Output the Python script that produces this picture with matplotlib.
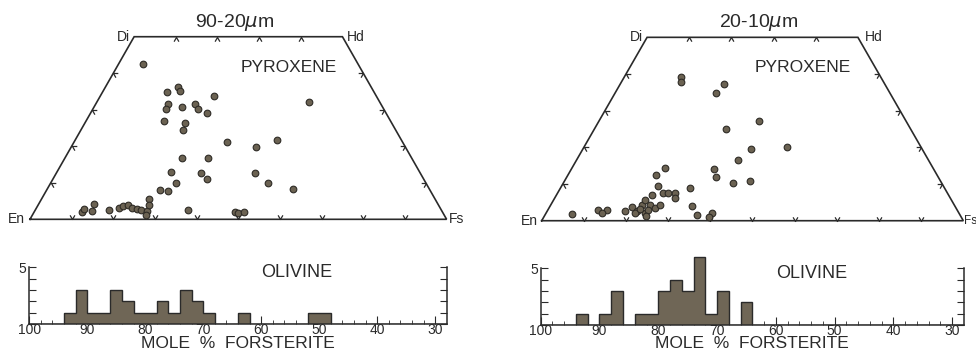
import numpy as np
import matplotlib
matplotlib.use("Agg")
import matplotlib.pyplot as plt
from matplotlib.markers import MarkerStyle
from matplotlib.path import Path
from matplotlib.transforms import Affine2D

# pyroxene analyses, mole % Wo and Fs (En = 100 - Wo - Fs)
coarse_wo = [42.5, 34.8, 36.2, 35.1, 33.8, 31.5, 30.2, 30.7, 31.5, 30.2, 29.2, 26.9,
             26.3, 24.5, 21.2, 32.1, 19.9, 21.8, 16.7, 16.9, 12.9, 12.6, 11.0, 12.6,
             10.0, 10.0, 8.3, 8.0, 7.7, 5.5, 2.5, 2.1, 1.6, 1.9, 2.1, 2.8, 2.3, 4.2,
             2.5, 3.2, 3.7, 3.9, 3.2, 2.8, 2.5, 2.3, 3.9, 1.2]
coarse_fs = [5.8, 15.4, 17.4, 18.5, 27.3, 17.3, 17.6, 21.1, 23.9, 25.3, 28.0, 18.6,
             24.1, 24.4, 36.8, 51.0, 44.2, 48.3, 28.1, 34.2, 27.3, 34.7, 37.0, 47.7,
             30.0, 52.2, 58.9, 27.2, 29.3, 25.9, 36.7, 48.2, 49.2, 50.5, 11.5, 11.6,
             13.8, 13.3, 17.8, 19.8, 20.5, 21.6, 23.0, 24.3, 25.5, 27.0, 26.7, 27.3]

fine_wo = [39.3, 37.9, 37.2, 34.7, 27.2, 24.9, 20.2, 19.5, 16.5, 14.3, 14.0, 12.0,
           10.2, 10.9, 12.5, 9.5, 8.8, 7.5, 6.1, 7.5, 7.6, 4.0, 1.6, 2.0, 1.1, 1.8,
           2.9, 2.9, 2.2, 2.7, 3.8, 2.7, 4.3, 5.6, 7.0, 4.3, 3.4, 4.3, 2.0, 2.0, 3.1,
           2.9, 1.3]
fine_fs = [13.4, 14.1, 24.6, 24.0, 38.0, 31.3, 48.0, 39.9, 38.2, 22.1, 33.9, 35.3,
           40.3, 44.0, 20.8, 22.9, 30.8, 27.9, 28.6, 25.1, 26.2, 33.6, 36.0, 39.3,
           39.2, 6.2, 11.8, 14.0, 13.3, 18.4, 19.6, 21.2, 21.6, 21.7, 22.6, 23.5,
           25.2, 25.9, 23.5, 21.1, 21.8, 23.8, 24.1]

# olivine, 2 mole % Fo bins (upper edge of each bin) and counts
coarse_bin = [94, 92, 90, 88, 86, 84, 82, 80, 78, 76, 74, 72, 70, 64, 52, 50]
coarse_n = [1, 3, 1, 1, 3, 2, 1, 1, 2, 1, 3, 2, 1, 1, 1, 1]
fine_bin = [94, 90, 88, 84, 82, 80, 78, 76, 74, 72, 70, 66]
fine_n = [1, 1, 3, 1, 1, 3, 4, 3, 6, 1, 3, 2]

fo_ticks = [100, 90, 80, 70, 60, 50, 40, 30]
edge_ticks = [10, 20, 30, 40]

ink = "#2a2a2a"
dot = "#6b6252"
fill = "#6f6656"

plt.rcParams["font.family"] = ["Liberation Sans", "DejaVu Sans"]
plt.rcParams["mathtext.fontset"] = "dejavusans"

fig = plt.figure(figsize=(9.76, 3.6), dpi=100)

vee = Path([(-0.5, 0.866), (0, 0), (0.5, 0.866)],
           [Path.MOVETO, Path.LINETO, Path.LINETO])


def chevrons(ax, xs, ys, rot):
    m = MarkerStyle(vee, transform=Affine2D().rotate_deg(rot))
    ax.plot(xs, ys, ls="none", marker=m, ms=6, mfc="none", mec=ink,
            mew=0.9, clip_on=False)


def pyroxene(rect, wo, fs, title, lab):
    ax = fig.add_axes(rect)
    ax.set_xlim(0, 100)
    ax.set_ylim(0, 50)
    ax.axis("off")
    ax.plot([0, 100, 75, 25, 0], [0, 0, 50, 50, 0], color=ink, lw=1.2,
            clip_on=False, solid_joinstyle="miter")
    chevrons(ax, list(range(10, 100, 10)), [0] * 9, 0)
    chevrons(ax, [25 + t for t in edge_ticks], [50] * 4, 180)
    chevrons(ax, [t / 2 for t in edge_ticks], edge_ticks, -120)
    chevrons(ax, [100 - t / 2 for t in edge_ticks], edge_ticks, 120)

    wo = np.array(wo)
    fs = np.array(fs)
    ax.plot(fs + wo / 2, wo, "o", ms=4.8, mfc=dot, mec="#2e2b26", mew=0.8,
            clip_on=False)

    ax.text(lab[0], 0, "En", ha="right", va="center", fontsize=10, color=ink)
    ax.text(lab[1], 0, "Fs", ha="left", va="center", fontsize=lab[4], color=ink)
    ax.text(24, 50, "Di", ha="right", va="center", fontsize=10, color=ink)
    ax.text(lab[2], 50, "Hd", ha="left", va="center", fontsize=10, color=ink)
    ax.text(lab[3], 54, title, ha="center", va="center", fontsize=14, color=ink)
    ax.text(62, 41.7, "PYROXENE", ha="center", va="center", fontsize=12.5,
            color=ink)


def olivine(rect, bins, counts):
    ax = fig.add_axes(rect)
    edges = np.arange(28, 101, 2)
    n = np.zeros(len(edges) - 1)
    for b, c in zip(bins, counts):
        n[(b - 30) // 2] = c
    ax.set_axisbelow(True)
    ax.stairs(n, edges, fill=True, color=fill, zorder=1)
    ax.stairs(n, edges, color=ink, lw=1.0, zorder=1.1)
    ax.set_xlim(100, 28)
    ax.set_ylim(0, 6.5)
    ax.patch.set_visible(False)
    ax.spines["top"].set_visible(False)
    for s in ("left", "right"):
        ax.spines[s].set_bounds(0, 5)
    for s in ("left", "right", "bottom"):
        ax.spines[s].set_color(ink)
        ax.spines[s].set_linewidth(1.1)
    ax.set_yticks(range(6))
    ax.set_yticklabels([""] * 5 + ["5"], fontsize=10)
    ax.tick_params(axis="y", direction="in", length=5, left=True, right=True,
                   pad=2, colors=ink)
    ax.set_xticks(fo_ticks)
    ax.set_xticks(np.arange(30, 100, 2), minor=True)
    ax.set_xticklabels([str(t) for t in fo_ticks], fontsize=10)
    ax.tick_params(axis="x", which="major", direction="in", length=6, pad=-1,
                   colors=ink)
    ax.tick_params(axis="x", which="minor", direction="in", length=3,
                   color=ink)
    ax.set_xlabel("MOLE  %  FORSTERITE", fontsize=12.5, labelpad=-1, color=ink)
    ax.text(53.9, 4.5, "OLIVINE", ha="center", va="center", fontsize=13,
            color=ink)


pyroxene([0.0307, 0.3908, 0.4269, 0.5072], coarse_wo, coarse_fs,
         "90-20$\\mu$m", (-1.2, 100.5, 76.1, 49.2, 10))
pyroxene([0.5550, 0.3869, 0.4320, 0.5094], fine_wo, fine_fs,
         "20-10$\\mu$m", (-0.9, 100.2, 76.6, 51.5, 8.5))
olivine([0.0300, 0.0992, 0.4277, 0.2058], coarse_bin, coarse_n)
olivine([0.5540, 0.0972, 0.4337, 0.2047], fine_bin, fine_n)

fig.savefig("out.png", dpi=100, facecolor="white")
